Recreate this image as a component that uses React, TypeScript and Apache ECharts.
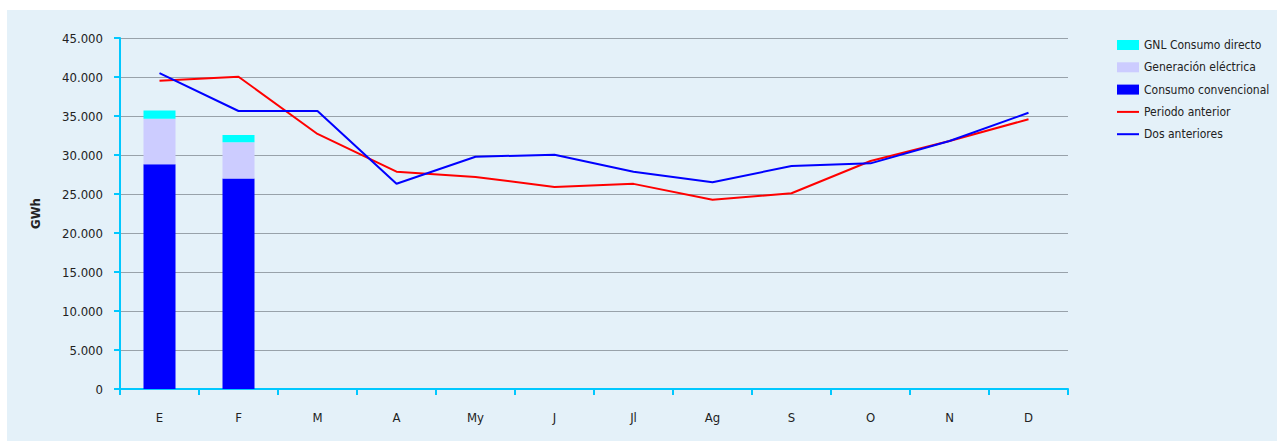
import React, { useEffect, useRef } from "react";
import * as echarts from "echarts";

const months = ["E", "F", "M", "A", "My", "J", "Jl", "Ag", "S", "O", "N", "D"];
const consumoConvencional = [28800, 27000, null, null, null, null, null, null, null, null, null, null];
const generacionElectrica = [5850, 4630, null, null, null, null, null, null, null, null, null, null];
const gnlConsumoDirecto = [1070, 940, null, null, null, null, null, null, null, null, null, null];
const periodoAnterior = [39530, 40040, 32700, 27860, 27180, 25900, 26300, 24270, 25090, 29230, 31800, 34580];
const dosAnteriores = [40500, 35640, 35640, 26320, 29780, 30040, 27860, 26500, 28590, 28930, 31800, 35420];

const FONT = "'Liberation Sans Narrow', 'DejaVu Sans Condensed', sans-serif";
const LINE_ICON = "path://M0,0L22,0L22,2L0,2Z";

export default function App() {
  const ref = useRef<HTMLDivElement>(null);
  useEffect(() => {
    if (!ref.current) return;
    const chart = echarts.init(ref.current, null, { renderer: "svg" });
    chart.setOption({
      animation: false,
      backgroundColor: "#e4f1f9",
      textStyle: { fontFamily: FONT, color: "#222" },
      grid: { left: 113, top: 28, right: 209, bottom: 52 },
      legend: {
        orient: "vertical",
        left: 1110,
        top: 29,
        padding: 0,
        itemWidth: 22,
        itemHeight: 10,
        itemGap: 10.3,
        symbolKeepAspect: true,
        textStyle: { fontFamily: FONT, fontSize: 12, color: "#222" },
        data: [
          { name: "GNL Consumo directo", icon: "rect" },
          { name: "Generación eléctrica", icon: "rect" },
          { name: "Consumo convencional", icon: "rect" },
          { name: "Periodo anterior", icon: LINE_ICON },
          { name: "Dos anteriores", icon: LINE_ICON },
        ],
      },
      xAxis: {
        type: "category",
        data: months,
        boundaryGap: true,
        axisLine: { lineStyle: { color: "#00c8ff", width: 2 } },
        axisTick: { show: true, alignWithLabel: false, length: 6, lineStyle: { color: "#00c8ff", width: 2 } },
        axisLabel: { margin: 22, fontSize: 13, color: "#222", fontFamily: FONT },
        splitLine: { show: false },
      },
      yAxis: {
        type: "value",
        min: 0,
        max: 45000,
        interval: 5000,
        name: "GWh",
        nameLocation: "middle",
        nameGap: 78,
        nameRotate: 90,
        nameTextStyle: { fontWeight: "bold", fontSize: 13, color: "#222", fontFamily: FONT },
        axisLine: { show: true, lineStyle: { color: "#00c8ff", width: 2 } },
        axisTick: { show: true, length: 6, lineStyle: { color: "#00c8ff", width: 2 } },
        axisLabel: {
          margin: 17,
          fontSize: 13,
          color: "#222",
          fontFamily: FONT,
          formatter: (v: number) => v.toLocaleString("de-DE"),
        },
        splitLine: { show: true, lineStyle: { color: "#98a2aa", width: 1 } },
      },
      series: [
        {
          name: "Consumo convencional",
          type: "bar",
          stack: "total",
          data: consumoConvencional,
          barWidth: 32,
          itemStyle: { color: "#0000ff" },
        },
        {
          name: "Generación eléctrica",
          type: "bar",
          stack: "total",
          data: generacionElectrica,
          barWidth: 32,
          itemStyle: { color: "#ccccff" },
        },
        {
          name: "GNL Consumo directo",
          type: "bar",
          stack: "total",
          data: gnlConsumoDirecto,
          barWidth: 32,
          itemStyle: { color: "#00ffff" },
        },
        {
          name: "Periodo anterior",
          type: "line",
          data: periodoAnterior,
          symbol: "none",
          showSymbol: false,
          lineStyle: { color: "#ff0000", width: 2 },
          itemStyle: { color: "#ff0000" },
        },
        {
          name: "Dos anteriores",
          type: "line",
          data: dosAnteriores,
          symbol: "none",
          showSymbol: false,
          lineStyle: { color: "#0000ff", width: 2 },
          itemStyle: { color: "#0000ff" },
        },
      ],
    });
    return () => chart.dispose();
  }, []);
  return (
    <div style={{ position: "fixed", left: 0, top: 0, width: 1277, height: 441, background: "#ffffff" }}>
      <div ref={ref} style={{ position: "absolute", left: 7, top: 10, width: 1270, height: 431 }} />
    </div>
  );
}
